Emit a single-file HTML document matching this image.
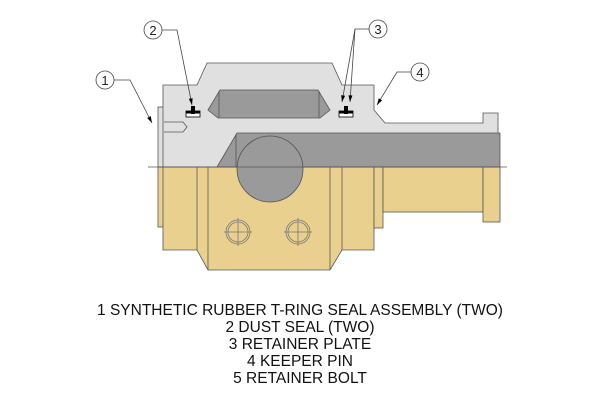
<!DOCTYPE html>
<html><head><style>html,body{margin:0;padding:0;background:#fff;}svg{display:block}</style></head>
<body>
<svg width="600" height="400" viewBox="0 0 600 400" xmlns="http://www.w3.org/2000/svg">
<defs><marker id="a" viewBox="0 0 10 6" refX="10" refY="3" markerWidth="8" markerHeight="4" orient="auto" markerUnits="userSpaceOnUse"><path d="M0,0 L10,3 L0,6 Z" fill="#000"/></marker></defs>
<g stroke="#555" stroke-width="0.8">
<rect x="158" y="167" width="6" height="60" fill="#e9d08e"/>
<path d="M163,167 H374 V250 H342 L330,270 H208 L197,250 H163 Z" fill="#e9d08e"/>
<rect x="374" y="167" width="9" height="61" fill="#e9d08e"/>
<rect x="383" y="167" width="100" height="45" fill="#e9d08e"/>
<rect x="483" y="167" width="17" height="55" fill="#e9d08e"/>
<line x1="197" y1="167" x2="197" y2="250"/><line x1="208" y1="167" x2="208" y2="270"/>
<line x1="330" y1="167" x2="330" y2="270"/><line x1="342" y1="167" x2="342" y2="250"/>
<rect x="158" y="107" width="6" height="60" fill="#e0e0e0"/>
<path d="M163,167 V85 H197 L207,63 H332 L342,85 H374 V110 L385,123 H483 V113 H498 V167 Z" fill="#e0e0e0"/>
<path d="M208,110 L220,90 H318 L330,110 L320,118 H218 Z" fill="#9a9a9a"/>
<line x1="219" y1="91" x2="219" y2="118"/><line x1="319" y1="91" x2="319" y2="118"/>
<path d="M217,167 L237,133 H500 V167 Z" fill="#9a9a9a"/>
<circle cx="270" cy="169" r="33" fill="#9a9a9a"/>
<line x1="236" y1="134" x2="236" y2="167"/>
<path d="M164,122 H183 L187,127 L183,132 H164" fill="#e0e0e0"/>
<rect x="186" y="111" width="14" height="6" fill="#fff" stroke="#000"/>
<rect x="186" y="111" width="14" height="2.5" fill="#000" stroke="none"/>
<rect x="191" y="106" width="4" height="8" fill="#000" stroke="none"/>
<rect x="339" y="111" width="14" height="6" fill="#fff" stroke="#000"/>
<rect x="339" y="111" width="14" height="2.5" fill="#000" stroke="none"/>
<rect x="344" y="106" width="4" height="8" fill="#000" stroke="none"/>
<g fill="none" stroke="#777"><circle cx="238" cy="232" r="12"/><circle cx="238" cy="232" r="10"/><line x1="224" y1="232" x2="252" y2="232"/><line x1="238" y1="218" x2="238" y2="246"/>
<circle cx="298" cy="232" r="12"/><circle cx="298" cy="232" r="10"/><line x1="284" y1="232" x2="312" y2="232"/><line x1="298" y1="218" x2="298" y2="246"/></g>
<line x1="148" y1="167" x2="507" y2="167"/>
</g>
<g stroke="#444" stroke-width="0.8" fill="none">
<circle cx="105" cy="80" r="9" fill="#fff"/><path d="M114,80 H130 L152,123" marker-end="url(#a)"/>
<circle cx="153" cy="30" r="9" fill="#fff"/><path d="M162,30 H177 L192,105" marker-end="url(#a)"/>
<circle cx="378" cy="29" r="9" fill="#fff"/><path d="M369,29 H355 L342,102" marker-end="url(#a)"/><path d="M355,29 L350,102" marker-end="url(#a)"/>
<circle cx="420" cy="72" r="9" fill="#fff"/><path d="M411,72 H397 L377,105" marker-end="url(#a)"/>
</g>
<g font-family="Liberation Sans, sans-serif" font-size="13" text-anchor="middle" fill="#222">
<text x="105" y="85">1</text><text x="153" y="35">2</text><text x="378" y="34">3</text><text x="420" y="77">4</text>
</g>
<g font-family="Liberation Sans, sans-serif" font-size="15.5" text-anchor="middle" fill="#111">
<text x="300" y="315">1 SYNTHETIC RUBBER T-RING SEAL ASSEMBLY (TWO)</text>
<text x="300" y="332">2 DUST SEAL (TWO)</text>
<text x="300" y="349">3 RETAINER PLATE</text>
<text x="300" y="366">4 KEEPER PIN</text>
<text x="300" y="383">5 RETAINER BOLT</text>
</g>
</svg>
</body></html>
